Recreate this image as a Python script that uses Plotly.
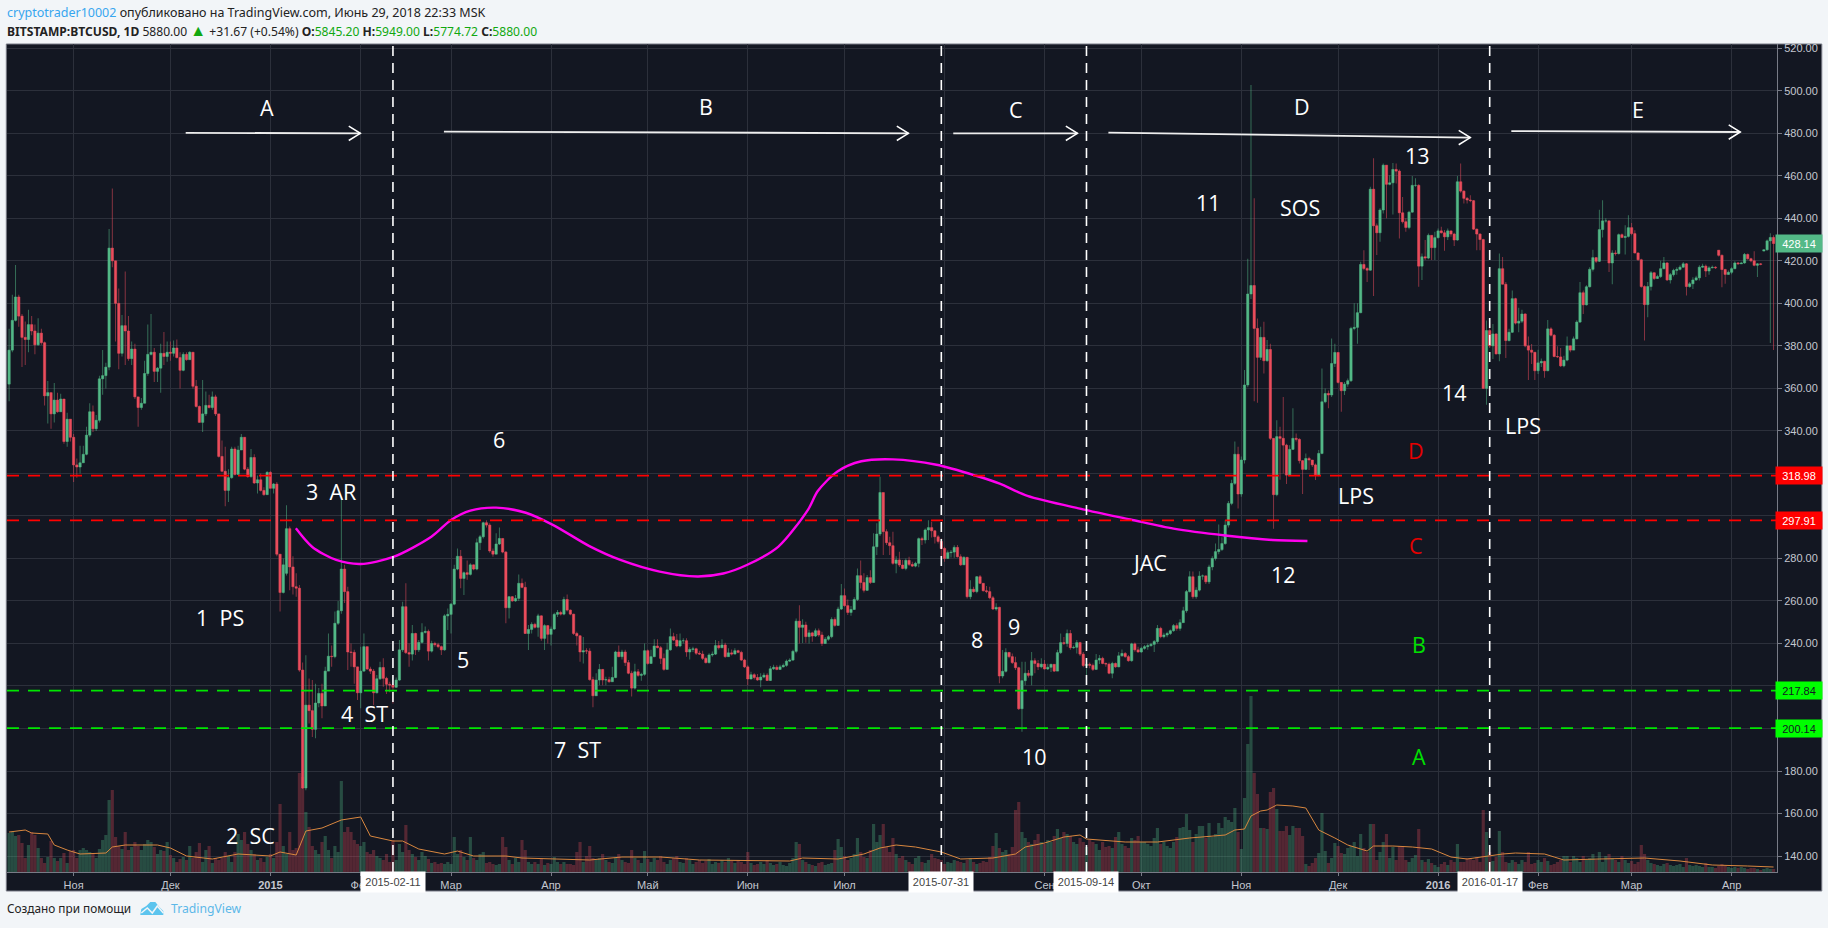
import numpy as np
import plotly.graph_objects as go

# ---------- data ----------
closes = [
378,392,403,394,384,383,390,387,380.5,386,
381.5,356.5,358,348,354.5,349,355,335,345.5,337,
324,323,325,329,338,349,341,345,364.5,366,
370,426,420,400,376.5,389.5,387,374,378.5,356,
351,353,367,376,377,368,369.5,376.5,375,377,
376.5,379,374.5,368.5,376,373.5,377,361,351.5,344,
348,352,351,356,348,328,321,312,318,331.5,
319.5,331,337,322,318.5,327.5,315.5,317,312,310,
320.5,313,315,282,264,277,294,276,266.7,266,
227.5,172,211,208.4,199.6,212,216.5,210.6,227,234,
233.8,249.5,255.4,275,264.4,236,235.8,229,216.8,227,
238.5,228,227,216.8,223.4,228.7,223.6,220.8,220.4,219.4,
222.8,237,257.3,235.7,235,244.7,237,240.5,245.2,245.7,
236.4,240,239.4,238.5,237,253,253.7,258.5,275,281,
270.6,273.3,272.5,277,275,287.4,290.2,296.8,295.7,283.5,
282,286.8,289.4,283,256.8,262,260,261.2,268.3,266.4,
244.7,246.6,249,247.6,253,242.4,248.4,244.3,246.8,253.7,
254.6,253.8,260.7,255.7,253.8,244.7,243.6,236,236.6,236.4,
223,215.4,222.8,227.8,222.8,223,222,224,236,233.8,
236,231,226,219,226.7,225,225.5,236.6,230.6,233.8,
238.8,238,233,227.8,237,243.2,241.6,238.8,241.3,241.3,
236,237.2,237.5,235.4,235,233,231,234.6,235,239,
238,239.3,233.8,235.6,235,236.6,235.8,232.2,229,223.3,
225.3,224,222.8,224.2,225.1,222.6,228.1,228.8,227.8,229,
229.7,231.7,232.2,236.3,250.5,247.6,248.7,243.2,245,243.5,
246,244,240,242,243.2,251.3,248.5,256.2,262.5,257.8,
254.6,256,260.7,271.9,268.7,265,271,268.7,285.5,291.5,
311,292.6,287.4,286,277.7,279.3,276.9,275.3,279.1,277.2,
276.4,277.7,289.3,288.7,293.4,294.5,293,290.2,288,284.7,
280,282.7,283,285.2,280.8,277,280.5,262,265.5,264.4,
271.4,268.3,264.8,264.4,261.5,256.2,257,224.7,226.9,235.8,
233.8,231,228.6,209.3,222.5,226,225,231.9,230.6,229,
230.3,228,228.8,230.2,227,235.7,240.4,240,244.7,238,
238.2,240.4,235,229.6,230.2,229.7,227.8,232.2,233,230.6,
230.3,226,230.6,229,234.2,235.3,233.8,231.9,239.8,237,
236,237.7,238.5,239,239.6,240.9,247.1,243.2,244,244.7,
246,248.4,247.1,249.8,255.4,264.4,271.4,262,265.1,271.7,
271.8,269,276,280,283.2,284.2,287,295.7,305.9,315.3,
329,310.3,326.3,361.6,404.4,408.4,388.2,374.6,384,373,
378.3,336.5,310,337.3,336.5,333.3,319.2,331.3,336.5,336,
326,321.9,327,326.3,324,319.2,329.4,353.7,357.6,356.9,
371.7,376.9,362.8,358.9,362,363.6,388.2,388.7,395.6,418.3,
416.4,415.6,453.7,436.5,433.2,443.9,465,456,456.7,463,
462.2,442.6,438.4,435.7,442.9,455.5,455.5,417.5,421.9,421.3,
432,426.2,430.9,434.1,433.2,431.3,434.1,432.6,429.8,457.2,
452.8,449.4,448.6,448.3,434.9,432.6,430,360,387.2,380,
385.6,376.2,416.3,409,382.5,386.4,402.2,390.7,391.6,395,
380,378,377,368.3,372,372.7,368.3,388,385,375,
374.8,370.6,373.3,380,378,383.3,391.2,405,399.3,407.8,
416,421.5,419.8,434.7,438.8,438.8,419,423.7,423.4,432.3,
431,431.5,435.6,432.8,423.7,420.5,407.9,399.4,407.9,414.4,
411.7,412.6,416.3,419,411,413.5,415.5,416,417,418.6,
407.9,409.2,411,412,417,417.5,415.2,416.7,417,416.7,
422.6,415.9,413.6,414.6,416.3,419,418.6,419,423,421,
420,417.9,418.6,418.3,425.2,429.4,431,428.14]

highs = [
388,404,418,404,395,391.5,397,394,390,393,
388,382,363.5,358,362.5,358,357.5,355,348.5,345.5,
338.5,327,333,333,342,353,352,347.5,366,378,
372,435,454,418,407,394.5,415,394,382,381,
356,355.5,373,390,395,379,370,381,386.5,382,
382,382.5,383,377,377,377,377.5,376,364,352,
364,358.5,357,358.5,357,348,335.5,332.5,322,332.5,
332.5,333,338.5,337,323,331.5,329,319,320,313.5,
321,321,315.5,316,282,280,305,295,281,273,
267.5,231,234.5,223.5,222.8,221,219,221,229,244.7,
239,255,260,307.5,277,266.7,240,237,229,238.5,
244.7,238.5,229,228,225.2,231.4,233,224.4,222,221,
224,241.6,259.6,268.3,240,248.7,245,241.6,249.5,248,
246.6,241.3,240.8,240.3,239,253.8,256.5,259,277,284.7,
284,273.8,279,277.7,277.2,289.4,291,297.3,298,296.5,
284.7,291.8,294.6,289.4,283.5,262.3,262.3,262.8,272.5,270.6,
269,248.7,250,249.8,254,253.3,249,248.7,248,254.5,
255.7,255.4,262,263,256,254,245.5,244,243,237.7,
237.7,224.4,226,230.3,228,224.4,224.4,229,236.6,239,
237,237,232.2,227.2,230.5,228,226.2,240,237.2,237,
242,242,238.8,235.3,240.4,247,245,244.5,244.7,242.5,
242.5,238.2,238.5,238,236.6,236.6,233.8,235.4,236.2,241.6,
241.2,242,240.4,237.7,237.2,237.7,237,236.6,232.8,229.8,
226.7,226,225.6,226,226.2,226,229.4,230,229.8,230,
230.6,232.5,233,237,251.8,258,251.4,250.2,246.4,245.5,
247,247,245.5,243,244,252.3,252.3,257.3,268,265.9,
260.7,257.6,261.7,275.3,279,273,272.2,274.5,291.8,296.5,
318.4,311,293.7,290.2,292.6,281,283.2,279.3,280,280.8,
278.5,278.5,289.9,290.2,294.1,298,297.3,293.4,291,289.4,
285.5,283.7,284,286.2,286.3,282,281,280.8,269.8,266.7,
271.7,272.2,268.3,267,266.7,262.3,258.9,257.3,236.9,237.7,
236,235.3,233.8,229,231.4,231.4,227.5,236,233,232.2,
233,232.2,230.5,230.5,230,237,244.7,243,246.6,246.3,
239,241.6,240.8,236,231.4,231,230.6,235,234.6,233.8,
231,231,231.4,231,236,237.2,236,234.6,240.4,240.5,
238.5,238.5,239.3,240,240.4,241.6,248.7,247.9,245,245.5,
246.6,249.2,249.5,251.4,257.3,265.2,274,273.8,266.5,274,
272.5,272,277,281,287,296,290,298,307,317,
335,332.5,328,368.6,421,502.7,449.4,392.9,389,391.3,
382.7,381,336.5,345,342,356,334,333.3,350.6,338.8,
336.5,326.3,329.4,327.8,325.5,324.7,331,369.4,360,359,
383.5,381,376.9,363,363,364.7,389,400,400,419.6,
425,417,454.8,468.2,437.6,444.7,465.8,465,460.3,466,
465.8,463,450,440,443.6,459.9,458.8,456,423.5,429.8,
432.9,432,433.7,435.2,436,434.5,435.2,434,433.2,459.9,
465.8,453.2,450,450.9,448.6,435.2,433,430.4,391.9,391,
390.3,385.9,423.4,421.8,410,388,406,402.6,397.9,397,
395.4,384.4,380.9,377,378.2,374,373,392.2,388.8,385.6,
379.8,379,375.3,384.4,380.2,384.4,392,410,406,408.5,
417,425.2,421.8,444,448.5,440,439,425,425,432.8,
432.8,436.7,441.5,437.8,434.4,424,421,408.5,410,415.2,
414.6,413.5,420,421.8,419.4,414.3,416.3,417,417.9,419.4,
419,410,412.3,413,417.9,418.6,418.3,417.4,417.8,417.4,
425,423,416.3,415.5,417,419.8,419.4,419.6,423.7,423.4,
421.5,424.5,419,419,425.5,430,433,432]

lows = [
354,377,391.5,389,370,371,377,385,376,380,
380.5,352,343.5,341,344,348.5,350,334,332.5,335,
316,318,320,325,328.5,337,339.5,340,344,357,
360,368.5,417,382,369,375,371,373,371,355,
342,350,353,366,375.5,363,363,358,371,372.5,
373,375,374,360,368,373,374,360,351,344,
339.5,347,350.5,350,347,327.5,320.5,304.5,306.5,317.5,
319,319.5,331,321.5,318,318,315,310.5,311.5,309.5,
310,313,310.5,281,255,263.5,272,265,263,262,
226.7,171.6,171,202.4,196,195.4,210,204.8,212,227.5,
229,233,248.7,254,259,227.5,229,221,213.4,209.5,
226.7,227.5,225.6,211,216.5,222.8,219.7,216.2,217,211.8,
219,222.5,236,235,229,232,234.6,236,240,244.7,
232,235.7,238.5,237.7,234.6,236.6,246.3,244.7,258,274.5,
266,262.8,270,272,274.5,274.5,284,289.4,294.6,282.7,
280.8,282,286.3,282.4,249.5,251.8,259.6,259.6,260,266,
244.4,236.9,244.7,247,243.2,241.3,236.9,240,239,246.3,
252.5,253.2,253.3,255,253.3,244,239,231.4,230.6,235,
222.5,210,215.3,220.4,220.4,220.4,221.5,222,223.6,233.5,
232.5,229.4,225.5,215,218.4,224.4,222.5,224.8,230,230.3,
233.5,237.7,230.3,227.2,227.8,236.6,241.2,238.2,238.2,240,
233.8,232.5,236,234.6,234.6,232.2,230.6,230.6,233.8,234.6,
237.2,237.7,233.3,233.8,234.4,235,235.4,231.7,228.5,220.4,
223,223,222.5,219.4,223.6,222.3,222.3,227.5,227.4,227.5,
228.7,229,231.3,231.7,235.4,240,240.2,240.4,240,240.8,
243,243.2,238.8,239.7,241.3,242.4,247.9,248.2,255.7,257.3,
253.4,253,255.7,260,265.9,264,264.7,268,269,281.6,
290.5,281.6,286.3,281.6,277,273,276,274.9,274.5,276.4,
276,275.8,275.8,286.3,287,288.7,289.9,287,287,280,
278.5,279.7,280.5,280.3,280.5,276.4,277,261.2,260.8,263.9,
263.6,268,264.4,263.6,260.8,255.7,255.4,221.3,223.6,226.3,
233,230.3,227.5,208.7,198.5,220.4,224,220.4,226,227.5,
228.3,227.8,227.5,226.6,226.6,230,235,239.3,238.5,237,
237.5,235.3,234.1,228.8,224.4,228.3,227,227.5,230.3,230.2,
229,225.5,223.6,228.6,228.8,233.8,233.3,231.4,231.4,236.1,
235.6,235.6,237,237,238.5,236,240,242.4,242.5,242.9,
244,245.5,246,246,250.7,254.5,264,261,261,264.5,
270,268,268,274.5,279,282,283.5,286.5,294.5,305,
314.5,303.5,309,324.7,360.5,402,354,353.2,373.3,367,
372.5,335.7,294,309.3,317,320,315,318.7,331,335,
324.7,310.3,321.6,321.6,323,316.9,318.7,329,353,350.6,
356,370,362.3,349,356.9,360.8,363,387.4,381,395.3,
415.6,410,415.3,403.4,422.7,429,442.3,440,455.6,441.8,
456.4,430.5,437.6,433.7,434.8,442.6,454.8,407.8,411,420.4,
420.7,420.4,420.4,430.5,432.9,424.7,429.8,431.3,427,429.4,
452,447,447,447.5,434.5,425,425,359.7,352.3,379,
373.8,375.9,372.8,408.9,374.3,382,386,390,386.4,390.7,
379.3,363.9,371.5,363.9,366.8,370,365,368,384.4,374.6,
374.3,370,369.9,372.8,377,378,383,390.7,395,399,
407.5,415,419,419.4,431,438,414.7,409,422.5,423,
430.6,423,431,432,423.4,420,407.3,382.5,393.5,406,
411,411.4,411.9,416,410.5,409.3,412.6,413.5,415.5,416.7,
403.7,407.3,406.8,410.5,410.8,416.7,412.4,413.5,416.5,416.2,
422,407.6,409.2,413.5,413.7,416,418,418.5,418.6,420.5,
419.3,417.4,412.4,417.9,424.5,424.8,381.3,378]

first_open = 362
gap_opens = {86: 273, 530: 425, 544: 424.6}

volumes = [
39,40,36,37,29,14,27,40,37,24,
14,9,15,31,14,11,14,19,9,21,
22,14,22,24,22,20,18,14,23,32,
37,72,82,35,26,23,40,22,25,30,
26,22,28,32,30,25,18,22,21,30,
17,14,10,13,15,12,26,14,20,29,
10,22,26,9,14,12,14,20,16,10,
20,38,32,40,28,22,18,12,14,10,15,
18,14,30,68,26,18,40,22,24,99,
95,60,45,26,22,18,30,36,22,14,
26,20,91,40,45,40,32,28,26,30,
20,18,22,16,14,12,18,10,32,12,
28,20,47,22,18,15,12,20,16,13,
9,10,8,9,8,10,8,35,18,22,
15,12,35,14,12,18,20,9,10,8,
7,8,35,25,12,8,14,10,32,22,
10,8,10,8,14,7,9,8,15,10,
8,10,8,8,7,20,30,10,16,26,14,12,14,18,
12,10,9,14,18,12,10,9,22,14,
12,9,21,13,10,14,12,16,10,8,
12,14,16,10,9,14,12,8,10,12,
9,11,13,8,10,9,12,10,14,11,
9,12,10,8,20,
9,7,8,10,8,12,9,7,8,10,
7,6,9,14,30,28,12,10,8,7,
6,9,10,7,8,9,22,33,25,16,
12,14,18,34,20,15,14,22,48,30,
37,48,25,20,34,18,14,16,12,10,
8,14,16,10,9,12,18,14,13,12,
8,10,9,12,11,10,9,12,14,10,
8,9,11,10,15,26,39,24,20,22,
18,25,62,70,40,34,30,28,32,38,30,
28,32,30,36,43,34,40,38,36,30,
28,34,30,25,32,30,28,22,30,25,
26,24,35,40,28,26,24,34,32,36,30,
30,28,26,34,44,28,30,26,24,30,35,44,45,58,42,30,38,46,
46,34,49,35,38,49,44,55,52,50,64,40,
23,74,128,176,99,78,44,44,43,80,
84,63,41,41,46,37,46,44,44,36,
8,6,9,14,19,59,21,9,14,29,
26,19,18,24,26,30,16,38,24,20,
48,48,12,20,30,38,14,25,12,26,
26,12,10,14,17,43,12,10,13,9,
7,5,8,10,7,12,10,28,10,10,
14,14,12,15,10,62,40,20,11,15,
41,20,10,9,12,10,8,12,10,20,
8,9,12,10,14,11,7,8,10,12,
16,16,10,16,14,10,16,12,
14,18,12,20,10,16,18,14,12,10,
16,12,9,11,8,10,27,18,12,9,
8,7,6,8,9,7,6,7,8,5,
14,7,6,7,6,5,9,5,5,4,
6,8,6,5,4,5,4,5,4,3,
4,4,3,2,3,4,3,3]

vol_ma_bars = [0,5,7,12,14,18,22,30,32,36,46,50,55,63,71,81,84,89,92,97,103,109,112,119,122,127,135,139,144,154,159,169,180,190,202,214,242,246,257,265,270,275,281,289,295,305,312,315,321,327,332,334,346,356,366,377,380,383,385,388,390,393,398,402,406,411,415,421,423,429,435,441,447,452,458,463,467,476,479,482,493,507,518,528,539,547]
vol_ma_vals = [40,42,39,38,27,22,18,19,25,27,27,24,16,13,18,16,20,17,41,44,52,55,36,31,31,23,18,21,16,16,14,13,12,15,15,12,11,14,13,18,24,27,25,20,13,14,18,25,29,35,37,33,30,30,34,37,42,43,56,61,62,67,66,64,42,34,27,21,26,26,25,23,15,13,16,18,19,18,15,12,13,14,11,7,6,5]

month_bars = [20,50,81,109,137,168,198,229,259,290,321,351,382,412,443,474,503,534]
month_labels = ["Ноя","Дек","<b>2015</b>","Фев","Мар","Апр","Май","Июн","Июл","Авг","Сен","Окт","Ноя","Дек","<b>2016</b>","Фев","Мар","Апр"]
price_ticks = list(range(140, 521, 20))

phase_bars = [119, 289, 334, 459]
phase_dates = ["2015-02-11", "2015-07-31", "2015-09-14", "2016-01-17"]
red_levels = [318.98, 297.91]
green_levels = [217.84, 200.14]
last_price = 428.14

curve_bars = [88.9,94,101.4,109,119.1,130.9,137,143,151,160.2,168.7,179.9,189.5,201.7,213.4,221.4,228.7,238.5,247.7,250.7,256.8,264.2,274,287.5,299.8,307.1,315.7,332.9,347.6,361,377,391.6,402.5]
curve_vals = [294.2,285.4,279.3,277.4,280.7,290.2,298.1,302.5,303.9,301.5,295.7,285.8,279.3,273.8,271.5,272.9,276.9,285.6,303,311.7,320.9,325.7,326.6,324.1,318.9,315.2,309.4,303.1,298.3,294,290.8,288.7,288.2]

arrow_from_bar = [54.75,134.8,292.7,340.8,465.7]
arrow_from_val = [480.2,480.8,480,480.3,481]
arrow_to_bar = [108.9,278.8,331.2,453,536.7]
arrow_to_val = [480,480,480,478,480.6]

white_labels = [("A",267,107),("B",706,106),("C",1016,109),("D",1302,106),("E",1638,109),
    ("6",499,439),("3\u00a0\u00a0AR",331,492),("1\u00a0\u00a0PS",220,617),("5",463,659),
    ("4\u00a0\u00a0ST",364,713),("7\u00a0\u00a0ST",577,749),("2\u00a0\u00a0SC",250,835),
    ("8",977,639),("9",1014,626),("10",1034,756),("JAC",1149,562),("11",1208,203),
    ("SOS",1300,207),("13",1417,156),("12",1283,574),("LPS",1356,495),("14",1454,392),("LPS",1523,425)]
colour_labels = [("D",1416,451,"#e60000"),("C",1416,545,"#e60000"),("B",1419,644,"#00e000"),("A",1419,756,"#00e000")]

# ---------- geometry ----------
W, H = 1828, 928
PL, PR, PT, PB = 6.7, 1776.7, 44, 872
def X(px): return (px - PL) / (PR - PL)
def Y(py): return 1 - (py - PT) / (PB - PT)

n = len(closes)
assert len(highs) == n and len(lows) == n and len(volumes) == n, (n, len(highs), len(lows), len(volumes))
bars = np.arange(n)
c = np.array(closes, float)
o = np.r_[first_open, c[:-1]]
for k, v in gap_opens.items():
    o[k] = v
hi = np.maximum.reduce([np.array(highs, float), o, c])
lo = np.minimum.reduce([np.array(lows, float), o, c])
top = np.maximum(o, c)
bot = np.minimum(o, c)
up = c >= o

GREEN, RED = "#53b987", "#eb4d5c"
BG = "#131722"
GRID = "#2c303b"
AXIS = "#787b86"

fig = go.Figure()
fig.add_trace(go.Bar(x=bars, y=volumes, yaxis="y", width=0.98,
    marker=dict(color=["rgba(83,185,135,0.33)" if u else "rgba(235,77,92,0.30)" for u in up], line_width=0),
    hoverinfo="skip", showlegend=False))
fig.add_trace(go.Scatter(x=vol_ma_bars, y=vol_ma_vals, yaxis="y", mode="lines",
    line=dict(color="#d9873f", width=1), hoverinfo="skip", showlegend=False))
# wicks
fig.add_trace(go.Bar(x=bars, base=lo, y=hi - lo, yaxis="y2", width=0.3,
    marker=dict(color=["rgba(83,185,135,0.55)" if u else "rgba(235,77,92,0.55)" for u in up], line_width=0),
    hoverinfo="skip", showlegend=False))
# bodies
fig.add_trace(go.Bar(x=bars, base=bot, y=top - bot, yaxis="y2", width=0.72,
    marker=dict(color=[GREEN if u else RED for u in up],
                line=dict(color=[GREEN if u else RED for u in up], width=0.5)),
    hoverinfo="skip", showlegend=False))
fig.add_trace(go.Scatter(x=curve_bars, y=curve_vals, yaxis="y2", mode="lines",
    line=dict(color="#ff00ee", width=2.4, shape="spline", smoothing=0.8), hoverinfo="skip", showlegend=False))

for x0, y0, x1, y1 in zip(arrow_from_bar, arrow_from_val, arrow_to_bar, arrow_to_val):
    fig.add_trace(go.Scatter(x=[x0, x1], y=[y0, y1], yaxis="y2", mode="lines",
        line=dict(color="#eeeeee", width=1.8), hoverinfo="skip", showlegend=False))
    fig.add_trace(go.Scatter(x=[x1 - 3.6, x1, x1 - 3.6], y=[y1 + 3.4, y1, y1 - 3.4], yaxis="y2", mode="lines",
        line=dict(color="#ffffff", width=1.5), hoverinfo="skip", showlegend=False))

shapes = [dict(type="rect", xref="paper", yref="paper", x0=X(6), x1=X(1821.5), y0=Y(891), y1=Y(PT),
               line=dict(color=AXIS, width=1), fillcolor=BG, layer="below")]
for lv in red_levels:
    shapes.append(dict(type="line", xref="paper", yref="y2", x0=0, x1=1, y0=lv, y1=lv,
                       line=dict(color="#ff0000", width=1.6, dash="12px,9px")))
for lv in green_levels:
    shapes.append(dict(type="line", xref="paper", yref="y2", x0=0, x1=1, y0=lv, y1=lv,
                       line=dict(color="#00e600", width=1.8, dash="12px,9px")))
for b in phase_bars:
    shapes.append(dict(type="line", xref="x", yref="paper", x0=b, x1=b, y0=0, y1=1,
                       line=dict(color="#ffffff", width=1.6, dash="10px,7px")))

# TradingView cloud icon
def P(pts): return "M" + "L".join(f"{X(a):.5f},{Y(b):.5f}" for a, b in pts) + "Z"
shapes.append(dict(type="path", xref="paper", yref="paper", line_width=0, fillcolor="#5cc4ee",
    path=P([(140,915),(141,909),(146,906),(150,902),(155,902),(159,907),(163,911),(163,915)])))
shapes.append(dict(type="path", xref="paper", yref="paper", line=dict(color="#f2f5f8", width=1.5), fillcolor="rgba(0,0,0,0)",
    path="M" + "L".join(f"{X(a):.5f},{Y(b):.5f}" for a, b in [(141,913),(147,908),(152,913),(157,906),(163,913)])))

ann = []
LABEL_FONT = "Open Sans"
for t, x, y in white_labels:
    ann.append(dict(text=t, xref="paper", yref="paper", x=X(x), y=Y(y), showarrow=False,
                    font=dict(family=LABEL_FONT, size=21.5, color="#ffffff"), xanchor="center", yanchor="middle"))
for t, x, y, col in colour_labels:
    ann.append(dict(text=t, xref="paper", yref="paper", x=X(x), y=Y(y), showarrow=False,
                    font=dict(family=LABEL_FONT, size=21.5, color=col), xanchor="center", yanchor="middle"))

# date boxes on the time axis
for b, d in zip(phase_bars, phase_dates):
    ann.append(dict(text=d, xref="x", yref="paper", x=b, y=Y(881.5), showarrow=False, bgcolor="#ffffff",
                    width=62, height=18, font=dict(family="Liberation Sans", size=11, color="#444444"),
                    xanchor="center", yanchor="middle"))
# price boxes
def price_box(v, bg, fg):
    return dict(text=f"{v:.2f}", xref="paper", yref="y2", x=X(1799), y=v, showarrow=False, bgcolor=bg,
                width=44, height=15, font=dict(family="Liberation Sans", size=11, color=fg),
                xanchor="center", yanchor="middle")
for lv in red_levels:
    ann.append(price_box(lv, "#ff0000", "#ffffff"))
for lv in green_levels:
    ann.append(price_box(lv, "#00ff00", "#131722"))
ann.append(price_box(last_price, GREEN, "#ffffff"))

# header and footer
HF = "Noto Sans"
def left(text, x, y, size=13):
    ann.append(dict(text=text, xref="paper", yref="paper", x=X(x), y=Y(y), showarrow=False, align="left",
                    font=dict(family=HF, size=size, color="#222222"), xanchor="left", yanchor="middle"))
G = "#10a810"
left('<span style="color:#37a6ef">cryptotrader10002</span> опубликовано на TradingView.com, Июнь 29, 2018 22:33 MSK', 5, 12, 12.5)
left(f'<b>BITSTAMP:BTCUSD, 1D</b> 5880.00 <span style="color:{G};font-size:16px">▲</span> +31.67 (+0.54%) <b>O:</b><span style="color:{G}">5845.20</span> '
     f'<b>H:</b><span style="color:{G}">5949.00</span> <b>L:</b><span style="color:{G}">5774.72</span> <b>C:</b><span style="color:{G}">5880.00</span>', 5, 30, 12.1)
left("Создано при помощи", 5, 908, 11.8)
left('<span style="color:#5cb8e8">TradingView</span>', 169, 908, 12.2)

fig.update_layout(
    width=W, height=H, margin=dict(l=PL, r=W - PR, t=PT, b=H - PB, pad=0),
    paper_bgcolor="#f2f5f8", plot_bgcolor=BG, showlegend=False, barmode="overlay",
    shapes=shapes, annotations=ann,
    xaxis=dict(range=[-0.65, 548.07], tickmode="array", tickvals=month_bars, ticktext=month_labels,
               showgrid=True, gridcolor=GRID, gridwidth=1, zeroline=False, showline=True, linecolor=AXIS,
               ticks="outside", ticklen=3, tickcolor=AXIS,
               tickfont=dict(family="Liberation Sans", size=11, color="#c4c7d0")),
    yaxis=dict(range=[0, 828], visible=False, showgrid=False, zeroline=False, fixedrange=True),
    yaxis2=dict(range=[132.5, 522], overlaying="y", side="right", tickmode="array", tickvals=price_ticks,
                ticktext=[f"{v:.2f}" for v in price_ticks], showgrid=True, gridcolor=GRID, gridwidth=1,
                zeroline=False, showline=True, linecolor=AXIS, ticks="outside", ticklen=4, tickcolor=AXIS,
                tickfont=dict(family="Liberation Sans", size=11, color="#c4c7d0")),
    font=dict(family="Liberation Sans"),
)
fig.write_html("out.html", config=dict(displayModeBar=False),
               post_script="document.body.style.margin='0';document.body.style.background='#f2f5f8';")
